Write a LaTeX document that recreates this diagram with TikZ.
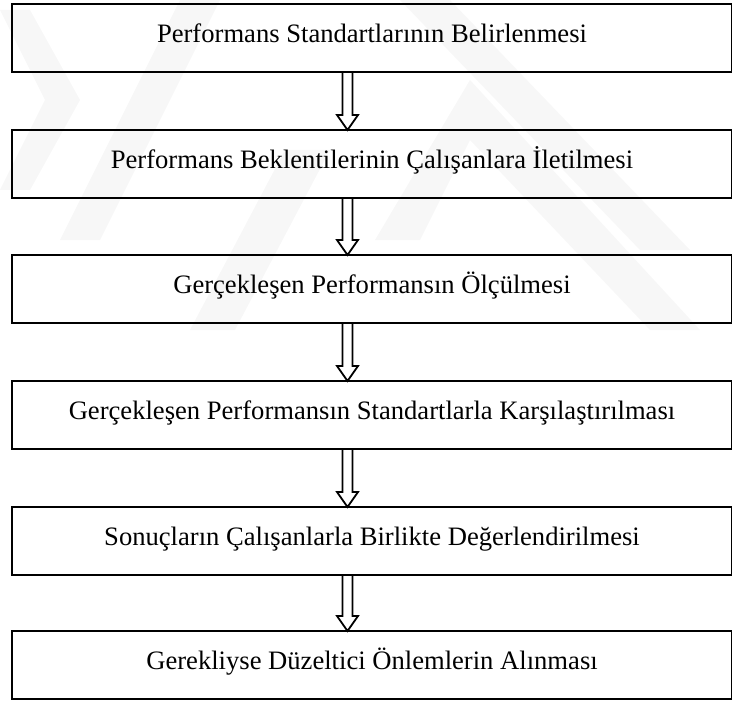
\documentclass[tikz,border=0pt]{standalone}
\usepackage{fontspec}
\setmainfont{Liberation Serif}
\usepackage{tikz}
\usetikzlibrary{calc}

\begin{document}
\begin{tikzpicture}[x=0.5pt, y=-0.5pt,
		box/.style={draw, line width=1pt, rectangle, minimum width=360pt, inner sep=0pt, outer sep=0pt,
			text height=19.2pt, text depth=14.8pt, font=\fontsize{13.3}{15}\selectfont},
		hollow/.style={line width=0.9pt, line join=miter},
		faint/.style={fill=gray!6, draw=none}]
	% Page size
	\useasboundingbox (0,0) rectangle (732,700);
	
	% Watermark bands
	\fill[faint] (0,10) -- (30,10) -- (80,100) -- (30,190) -- (0,190) -- (45,100) -- cycle;
	\fill[faint] (60,240) -- (100,240) -- (220,0) -- (180,0) -- cycle;
	\fill[faint] (190,330) -- (235,330) -- (330,150) -- (285,150) -- cycle;
	\fill[faint] (375,240) -- (420,240) -- (470,140) -- (650,330) -- (700,330) -- (470,80) -- cycle;
	\fill[faint] (400,0) -- (450,0) -- (690,250) -- (640,250) -- cycle;
	
	% Steps
	\node[box] (s1) at (372,38) {Performans Standartlarının Belirlenmesi};
	\node[box] (s2) at (372,164) {Performans Beklentilerinin Çalışanlara İletilmesi};
	\node[box] (s3) at (372,289) {Gerçekleşen Performansın Ölçülmesi};
	\node[box] (s4) at (372,415) {Gerçekleşen Performansın Standartlarla Karşılaştırılması};
	\node[box] (s5) at (372,541) {Sonuçların Çalışanlarla Birlikte Değerlendirilmesi};
	\node[box] (s6) at (372,665) {Gerekliyse Düzeltici Önlemlerin Alınması};
	
	% Arrow axis
	\coordinate (ax) at (347.5,0);
	
	% Hollow arrows
	\draw[hollow] ($(s1.south -| ax)+(-5,0)$) -- ($(s2.north -| ax)+(-5,-15)$) -- ++(-5.5,0) -- (s2.north -| ax) -- ++(10.5,-15) -- ++(-5.5,0) -- ($(s1.south -| ax)+(5,0)$);
	\draw[hollow] ($(s2.south -| ax)+(-5,0)$) -- ($(s3.north -| ax)+(-5,-15)$) -- ++(-5.5,0) -- (s3.north -| ax) -- ++(10.5,-15) -- ++(-5.5,0) -- ($(s2.south -| ax)+(5,0)$);
	\draw[hollow] ($(s3.south -| ax)+(-5,0)$) -- ($(s4.north -| ax)+(-5,-15)$) -- ++(-5.5,0) -- (s4.north -| ax) -- ++(10.5,-15) -- ++(-5.5,0) -- ($(s3.south -| ax)+(5,0)$);
	\draw[hollow] ($(s4.south -| ax)+(-5,0)$) -- ($(s5.north -| ax)+(-5,-15)$) -- ++(-5.5,0) -- (s5.north -| ax) -- ++(10.5,-15) -- ++(-5.5,0) -- ($(s4.south -| ax)+(5,0)$);
	\draw[hollow] ($(s5.south -| ax)+(-5,0)$) -- ($(s6.north -| ax)+(-5,-15)$) -- ++(-5.5,0) -- (s6.north -| ax) -- ++(10.5,-15) -- ++(-5.5,0) -- ($(s5.south -| ax)+(5,0)$);
	
\end{tikzpicture}
\end{document}
